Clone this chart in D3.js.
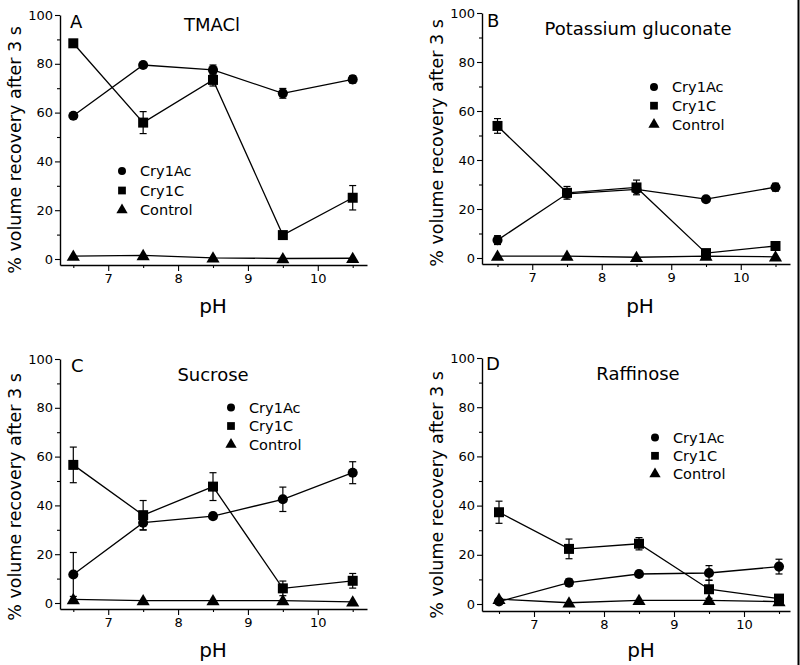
<!DOCTYPE html>
<html><head><meta charset="utf-8">
<script src="https://cdn.jsdelivr.net/npm/d3@7"></script>
<style>body{margin:0;background:#fff}svg{display:block}text{font-family:"DejaVu Sans",sans-serif;fill:#000}</style>
</head><body>
<script>
// ---------- data ----------
const pH = [6.5, 7.5, 8.5, 9.5, 10.5];
const seriesNames = ["Cry1Ac", "Cry1C", "Control"];
const xTickLabels = [7, 8, 9, 10];
const yTickLabels = [0, 20, 40, 60, 80, 100];
const panelLetters = ["A", "B", "C", "D"];
const panelTitles = ["TMACl", "Potassium gluconate", "Sucrose", "Raffinose"];

// Panel A: TMACl
const aCry1Ac = [58.7, 79.5, 77.5, 67.9, 73.6];
const aCry1AcErr = [0, 0, 2, 2, 1.5];
const aCry1C = [88.4, 55.9, 73.4, 9.8, 25.1];
const aCry1CErr = [0, 4.5, 2.5, 0, 5];
const aControl = [1.2, 1.5, 0.5, 0.2, 0.3];
// Panel B: Potassium gluconate
const bCry1Ac = [7.3, 26.2, 28.0, 24.0, 28.9];
const bCry1AcErr = [1.8, 0, 0, 0, 1.6];
const bCry1C = [53.9, 26.6, 28.8, 2.0, 4.9];
const bCry1CErr = [3, 2.6, 3, 0, 0];
const bControl = [0.8, 0.8, 0.3, 0.8, 0.5];
// Panel C: Sucrose
const cCry1Ac = [11.7, 32.9, 35.6, 42.5, 53.4];
const cCry1AcErr = [9, 3, 0, 5, 4.5];
const cCry1C = [56.6, 36.0, 47.7, 6.0, 9.1];
const cCry1CErr = [7.3, 6, 5.7, 3, 3];
const cControl = [1.5, 1.0, 1.0, 1.0, 0.5];
// Panel D: Raffinose
const dCry1Ac = [1.0, 8.7, 12.2, 12.6, 15.2];
const dCry1AcErr = [0, 1.5, 0, 3, 3];
const dCry1C = [37.3, 22.4, 24.5, 6.0, 2.2];
const dCry1CErr = [4.5, 4, 2.5, 3.7, 0];
const dControl = [2.0, 0.5, 1.5, 1.5, 1.0];

const panelValues = [
  [aCry1Ac, aCry1C, aControl],
  [bCry1Ac, bCry1C, bControl],
  [cCry1Ac, cCry1C, cControl],
  [dCry1Ac, dCry1C, dControl]
];
const panelErrors = [
  [aCry1AcErr, aCry1CErr, null],
  [bCry1AcErr, bCry1CErr, null],
  [cCry1AcErr, cCry1CErr, null],
  [dCry1AcErr, dCry1CErr, null]
];

// ---------- layout (pixel positions) ----------
const layout = [
  {left: 60, right: 367, x65: 73.3, x105: 352.7, y100: 15, y0: 259, axisY: 265,
   letter: [70, 28], title: [212, 31], legend: [122, 140, 171, 19.5], ylab: [15, 150], xlab: [213, 313]},
  {left: 482, right: 790, x65: 497.5, x105: 775.5, y100: 13, y0: 258, axisY: 264,
   letter: [487, 27], title: [638, 35], legend: [654, 672, 87, 18.7], ylab: [437, 143], xlab: [640, 313]},
  {left: 60, right: 367, x65: 73.3, x105: 352.7, y100: 359, y0: 603, axisY: 609,
   letter: [71, 372], title: [213, 381], legend: [231, 249, 407.5, 18.5], ylab: [15, 497], xlab: [213, 657]},
  {left: 482, right: 790, x65: 499, x105: 779, y100: 358, y0: 604, axisY: 611,
   letter: [486, 370], title: [638, 380], legend: [655, 673, 437.5, 18.3], ylab: [437, 495], xlab: [641, 657]}
];

const W = 800, H = 665;
const svg = d3.select("body").append("svg").attr("width", W).attr("height", H);
svg.append("rect").attr("width", W).attr("height", H).attr("fill", "#fff");

const symTypes = [d3.symbolCircle, d3.symbolSquare, d3.symbolTriangle];
const symSizes = [80, 100, 75];
const legSizes = [50, 60, 55];

layout.forEach((L, p) => {
  const g = svg.append("g");
  // x scale: map pH 6.5 / 10.5 positions, extend to axis ends
  const k = (L.x105 - L.x65) / 4;
  const x = d3.scaleLinear()
    .domain([6.5 - (L.x65 - L.left) / k, 10.5 + (L.right - L.x105) / k])
    .range([L.left, L.right]);
  const ky = (L.y0 - L.y100) / 100;
  const y = d3.scaleLinear()
    .domain([-(L.axisY - L.y0) / ky, 100])
    .range([L.axisY, L.y100]);

  // axes
  const xa = g.append("g").attr("transform", `translate(0,${L.axisY})`)
    .call(d3.axisBottom(x).tickValues(xTickLabels).tickSize(6).tickSizeOuter(0).tickPadding(3).tickFormat(d3.format("d")));
  g.append("g").attr("transform", `translate(0,${L.axisY})`)
    .call(d3.axisBottom(x).tickValues(pH).tickSize(3).tickSizeOuter(0).tickFormat(""))
    .select(".domain").remove();
  const ya = g.append("g").attr("transform", `translate(${L.left},0)`)
    .call(d3.axisLeft(y).tickValues(yTickLabels).tickSize(5).tickSizeOuter(0).tickPadding(2).tickFormat(d3.format("d")));
  g.append("g").attr("transform", `translate(${L.left},0)`)
    .call(d3.axisLeft(y).tickValues([10, 30, 50, 70, 90]).tickSize(3).tickSizeOuter(0).tickFormat(""))
    .select(".domain").remove();
  g.selectAll(".domain").attr("stroke", "#000").attr("stroke-width", 1.4);
  g.selectAll(".tick line").attr("stroke", "#000").attr("stroke-width", 1.1);
  g.selectAll(".tick text").style("font-family", '"DejaVu Sans",sans-serif').style("font-size", "13px").attr("fill", "#222");

  // labels
  g.append("text").attr("x", L.letter[0]).attr("y", L.letter[1]).style("font-size", "18px").text(panelLetters[p]);
  g.append("text").attr("x", L.title[0]).attr("y", L.title[1]).attr("text-anchor", "middle").style("font-size", "18px").text(panelTitles[p]);
  g.append("text").attr("transform", `translate(${L.ylab[0]},${L.ylab[1]}) rotate(-90)`).attr("text-anchor", "middle")
    .attr("dy", "0.35em").style("font-size", "17.5px").text("% volume recovery after 3 s");
  g.append("text").attr("x", L.xlab[0]).attr("y", L.xlab[1]).attr("text-anchor", "middle").style("font-size", "20px").text("pH");

  // series
  const line = d3.line().x(d => x(d[0])).y(d => y(d[1]));
  panelValues[p].forEach((vals, s) => {
    const pts = pH.map((v, i) => [v, vals[i]]);
    g.append("path").datum(pts).attr("d", line).attr("fill", "none").attr("stroke", "#000").attr("stroke-width", 1.3);
  });
  panelValues[p].forEach((vals, s) => {
    const errs = panelErrors[p][s];
    if (!errs) return;
    pH.forEach((v, i) => {
      const e = errs[i];
      if (!e) return;
      const cx = x(v), y1 = y(vals[i] + e), y2 = y(Math.max(vals[i] - e, -1));
      g.append("line").attr("x1", cx).attr("x2", cx).attr("y1", y1).attr("y2", y2).attr("stroke", "#000").attr("stroke-width", 1.2);
      [y1, y2].forEach(yy => g.append("line").attr("x1", cx - 3.5).attr("x2", cx + 3.5).attr("y1", yy).attr("y2", yy).attr("stroke", "#000").attr("stroke-width", 1.2));
    });
  });
  panelValues[p].forEach((vals, s) => {
    const sym = d3.symbol().type(symTypes[s]).size(symSizes[s]);
    pH.forEach((v, i) => {
      g.append("path").attr("d", sym()).attr("transform", `translate(${x(v)},${y(vals[i]) + (s === 2 ? 1 : 0)})`).attr("fill", "#000");
    });
  });

  // legend
  const [mx, tx, ly0, dy] = L.legend;
  seriesNames.forEach((nm, s) => {
    const yy = ly0 + s * dy;
    g.append("path").attr("d", d3.symbol().type(symTypes[s]).size(legSizes[s])()).attr("transform", `translate(${mx},${yy})`).attr("fill", "#000");
    g.append("text").attr("x", tx).attr("y", yy).attr("dy", "0.36em").style("font-size", "14.5px").attr("fill", "#222").text(nm);
  });
});

// right edge border seen in the reference scan
svg.append("line").attr("x1", 798.5).attr("x2", 798.5).attr("y1", 0).attr("y2", H).attr("stroke", "#000").attr("stroke-width", 2);
</script>
</body></html>
